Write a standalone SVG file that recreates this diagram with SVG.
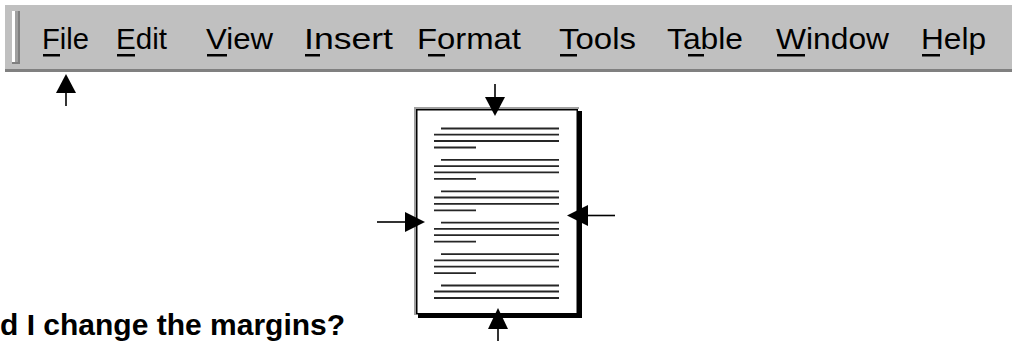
<svg xmlns="http://www.w3.org/2000/svg" width="1014" height="341" viewBox="0 0 1014 341">
<style>
.menu{font-family:"Liberation Sans",Arial,sans-serif;font-size:30px;fill:#000}
.ul{fill:#000}
.tl{stroke:#262626;stroke-width:1.8;fill:none}
.stem{stroke:#000;stroke-width:1.6;fill:none}
.head{fill:#000}
.cap{font-family:"Liberation Sans",Arial,sans-serif;font-size:30px;font-weight:bold;fill:#000}
</style>
<rect width="1014" height="341" fill="#fff"/>
<g id="menubar">
<rect x="5" y="5" width="1007" height="65" fill="#c0c0c0"/>
<rect x="5" y="69" width="1007" height="3" fill="#808080"/>
<rect x="12" y="11" width="3" height="52" fill="#fff"/>
<rect x="15" y="11" width="4" height="52" fill="#a0a0a0"/>
<rect x="18" y="11" width="2" height="53" fill="#808080"/>
<rect x="12" y="62" width="8" height="2" fill="#808080"/>
<text class="menu" x="42" y="49" textLength="47" lengthAdjust="spacingAndGlyphs">File</text>
<text class="menu" x="116" y="49" textLength="51" lengthAdjust="spacingAndGlyphs">Edit</text>
<text class="menu" x="206" y="49" textLength="67" lengthAdjust="spacingAndGlyphs">View</text>
<text class="menu" x="304" y="49" textLength="89" lengthAdjust="spacingAndGlyphs">Insert</text>
<text class="menu" x="417" y="49" textLength="104" lengthAdjust="spacingAndGlyphs">Format</text>
<text class="menu" x="559" y="49" textLength="77" lengthAdjust="spacingAndGlyphs">Tools</text>
<text class="menu" x="667" y="49" textLength="76" lengthAdjust="spacingAndGlyphs">Table</text>
<text class="menu" x="776" y="49" textLength="113" lengthAdjust="spacingAndGlyphs">Window</text>
<text class="menu" x="921" y="49" textLength="65" lengthAdjust="spacingAndGlyphs">Help</text>
<rect class="ul" x="43" y="54" width="17" height="2.5"/>
<rect class="ul" x="117" y="54" width="18" height="2.5"/>
<rect class="ul" x="207" y="54" width="20" height="2.5"/>
<rect class="ul" x="305" y="54" width="15" height="2.5"/>
<rect class="ul" x="428" y="54" width="17" height="2.5"/>
<rect class="ul" x="560" y="54" width="17" height="2.5"/>
<rect class="ul" x="688" y="54" width="16" height="2.5"/>
<rect class="ul" x="777" y="54" width="28" height="2.5"/>
<rect class="ul" x="922" y="54" width="18" height="2.5"/>
</g>
<g id="page">
<rect x="414" y="107" width="165" height="2" fill="#a0a0a0"/>
<rect x="414" y="107" width="2" height="208" fill="#a0a0a0"/>
<rect x="416.75" y="109.75" width="160.5" height="204" fill="#fff" stroke="#000" stroke-width="1.5"/>
<rect x="577" y="111" width="5" height="207" fill="#000"/>
<rect x="418" y="313" width="164" height="5" fill="#000"/>
<g id="textlines">
<path class="tl" d="M441 128.5H559M434 134.7H559M434 141H559M434 147.5H476"/>
<path class="tl" d="M441 159.9H559M434 166.1H559M434 172.4H559M434 178.9H476"/>
<path class="tl" d="M441 191.3H559M434 197.5H559M434 203.8H559M434 210.3H476"/>
<path class="tl" d="M441 222.7H559M434 228.9H559M434 235.2H559M434 241.7H476"/>
<path class="tl" d="M441 254.1H559M434 260.3H559M434 266.6H559M434 273.1H476"/>
<path class="tl" d="M441 285.5H559M434 291.5H559M434 298H559"/>
</g>
</g>
<g id="connectors">
<path class="stem" d="M66 92V106"/>
<polygon class="head" points="66,74 56,93 76,93"/>
<path class="stem" d="M495 84V98"/>
<polygon class="head" points="495,116 485,97 505,97"/>
<path class="stem" d="M498 328V341"/>
<polygon class="head" points="498,308 488,329 508,329"/>
<path class="stem" d="M377 222H406"/>
<polygon class="head" points="425,222 405,212 405,232"/>
<path class="stem" d="M587 215.5H615"/>
<polygon class="head" points="567,215.5 588,205 588,226"/>
</g>
<g id="caption">
<text class="cap" x="0" y="335">d I change the margins?</text>
</g>
</svg>
